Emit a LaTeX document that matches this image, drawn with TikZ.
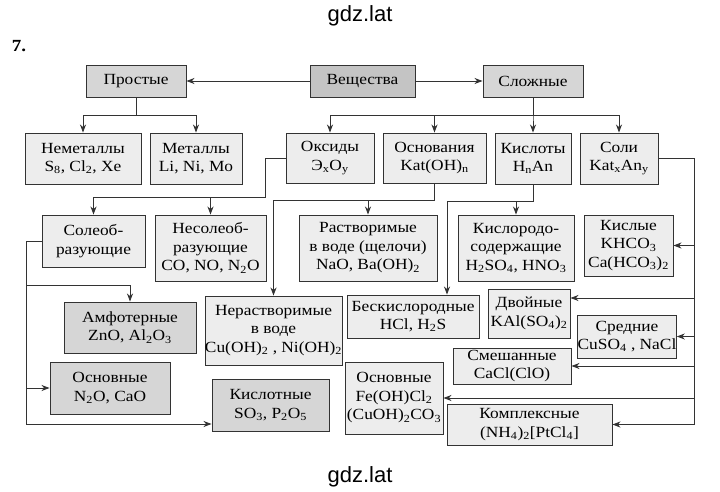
\documentclass[tikz,border=0pt]{standalone}
\usepackage{fontspec}
\setmainfont{Liberation Serif}[FakeStretch=1.12]
\newfontfamily\wmfont{Liberation Sans}
\usepackage{tikz}
\usetikzlibrary{arrows.meta}
\definecolor{boxlight}{HTML}{EDEDED}
\definecolor{boxdark}{HTML}{D6D6D6}
\definecolor{boxroot}{HTML}{C4C4C4}
\definecolor{edge}{HTML}{333333}
\newcommand{\ix}[1]{\textsubscript{#1}}

\begin{document}
\begin{tikzpicture}[x=1pt, y=-1pt,
  lbox/.style={draw=edge, line width=0.9pt, fill=boxlight, align=center, inner sep=0pt,
               font=\fontsize{15.5}{18.5}\selectfont},
  dbox/.style={lbox, fill=boxdark},
  wh/.style 2 args={minimum width=#1pt, minimum height=#2pt},
  conn/.style={draw=edge, line width=0.9pt, -{Stealth[length=8pt,width=6pt,inset=2.5pt]}}]
  \path[use as bounding box, fill=white] (0,0) rectangle (720,492);

  \node[font=\wmfont\fontsize{22}{24}\selectfont] (wmtop) at (360,16) {gdz.lat};
  \node[font=\bfseries\fontsize{17}{19}\selectfont] (num) at (19,46) {7.};
  \node[font=\wmfont\fontsize{22}{24}\selectfont] (wmbot) at (360,477) {gdz.lat};

  % top row
  \node[dbox, wh={100}{32}] (prost) at (136,81) {Простые};
  \node[dbox, fill=boxroot, wh={105}{32}] (vesch) at (362.5,81) {Вещества};
  \node[dbox, wh={100}{32}] (slozh) at (533,81) {Сложные};

  % second row
  \node[lbox, wh={116}{51}] (nemet) at (83,158.5) {Неметаллы\\S\ix8, Cl\ix2, Xe};
  \node[lbox, wh={92}{51}] (met) at (196,158.5) {Металлы\\Li, Ni, Mo};
  \node[lbox, wh={88}{50}] (oks) at (330,158) {Оксиды\\Э\ix{x}O\ix{y}};
  \node[lbox, wh={103}{50}] (osn) at (434.5,158) {Основания\\Kat(OH)\ix{n}};
  \node[lbox, wh={76}{51}] (kisl) at (533,158.5) {Кислоты\\H\ix{n}An};
  \node[lbox, wh={78}{51}] (soli) at (619,158.5) {Соли\\Kat\ix{x}An\ix{y}};

  % third row
  \node[lbox, wh={103}{52}] (soleo) at (93.5,241) {Солеоб-\\разующие};
  \node[lbox, wh={111}{66}] (nesoleo) at (210.5,248) {Несолеоб-\\разующие\\CO, NO, N\ix2O};
  \node[lbox, wh={138}{66}] (rastv) at (368,248) {Растворимые\\в воде (щелочи)\\NaO, Ba(OH)\ix2};
  \node[lbox, wh={116}{66}] (kislsod) at (516,248) {Кислородо-\\содержащие\\H\ix2SO\ix4, HNO\ix3};
  \node[lbox, wh={89}{61}] (kislye) at (628.5,245.5) {Кислые\\KHCO\ix3\\Ca(HCO\ix3)\ix2};

  % lower boxes
  \node[dbox, wh={132}{51}] (amf) at (130,327.5) {Амфотерные\\ZnO, Al\ix2O\ix3};
  \node[lbox, wh={137}{69}] (nerastv) at (273.5,330.5) {Нерастворимые\\в воде\\Cu(OH)\ix2 , Ni(OH)\ix2};
  \node[lbox, wh={132}{43}] (beskisl) at (413,316.5) {Бескислородные\\HCl, H\ix2S};
  \node[lbox, wh={82}{49}] (dvoin) at (529,313.5) {Двойные\\KAl(SO\ix4)\ix2};
  \node[lbox, wh={98}{43}] (sredn) at (627,336.5) {Средние\\CuSO\ix4 , NaCl};
  \node[lbox, wh={118}{36}] (smesh) at (512,366) {Смешанные\\CaCl(ClO)};
  \node[lbox, wh={98}{72}] (osnsol) at (394,398) {Основные\\Fe(OH)Cl\ix2\\(CuOH)\ix2CO\ix3};
  \node[lbox, wh={165}{41}] (kompl) at (529.5,424.5) {Комплексные\\(NH\ix4)\ix2[PtCl\ix4]};
  \node[dbox, wh={120}{52}] (osnoks) at (110,388) {Основные\\N\ix2O, CaO};
  \node[dbox, wh={117}{52}] (kislot) at (270.5,405) {Кислотные\\SO\ix3, P\ix2O\ix5};

  % substances
  \draw[conn] (vesch) -- (prost);
  \draw[conn] (vesch) -- (slozh);

  % simple
  \draw[conn] (prost.south) -- ++(0,18) -| (nemet.north);
  \draw[conn] (prost.south) -- ++(0,18) -| (met.north);

  % complex
  \foreach \n in {oks, osn, kisl, soli}
    \draw[conn] (slozh.south) -- ++(0,18) -| (\n.north);

  % oxides
  \draw[conn] (oks.west) -- ++(-20,0) -- ++(0,39) -| (soleo.north);
  \draw[conn] (oks.west) -- ++(-20,0) -- ++(0,39) -| (nesoleo.north);
  \draw[conn] (soleo.west) -- ++(-15,0) -- ++(0,44) -| (amf.north);
  \draw[conn] (soleo.west) -- ++(-15,0) |- (osnoks.west);
  \draw[conn] (soleo.west) -- ++(-15,0) |- ([yshift=-19pt]kislot.west);

  % bases
  \draw[conn] (osn.south) -- ++(0,17) -| (rastv.north);
  \draw[conn] (osn.south) -- ++(0,17) -| (nerastv.north);

  % acids
  \draw[conn] (kisl.south) -- ++(0,17) -| (kislsod.north);
  \draw[conn] (kisl.south) -- ++(0,17) -| ([xshift=34pt]beskisl.north);

  % salts
  \foreach \n in {kislye, sredn, smesh, osnsol, kompl}
    \draw[conn] (soli.east) -- ++(36,0) |- (\n.east);
  \draw[conn] (soli.east) -- ++(36,0) |- ([yshift=15.5pt]dvoin.east);
\end{tikzpicture}
\end{document}
